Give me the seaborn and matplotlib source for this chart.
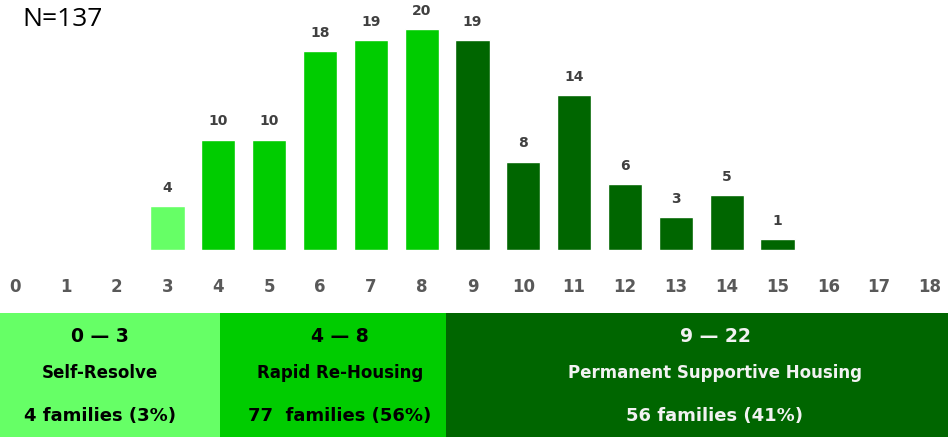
import numpy as np
import pandas as pd
import seaborn as sns
import matplotlib.pyplot as plt
from matplotlib.patches import Rectangle

# data
months = [3, 4, 5, 6, 7, 8, 9, 10, 11, 12, 13, 14, 15]
families = [4, 10, 10, 18, 19, 20, 19, 8, 14, 6, 3, 5, 1]
groups = ["Self-Resolve"] + ["Rapid Re-Housing"] * 5 + ["Permanent Supportive Housing"] * 7
tick_values = list(range(0, 19))

group_ranges = ["0 \u2014 3", "4 \u2014 8", "9 \u2014 22"]
group_names = ["Self-Resolve", "Rapid Re-Housing", "Permanent Supportive Housing"]
group_counts = ["4 families (3%)", "77  families (56%)", "56 families (41%)"]
total_n = 137

palette = {"Self-Resolve": "#66FF66",
           "Rapid Re-Housing": "#00CC00",
           "Permanent Supportive Housing": "#006600"}

df = pd.DataFrame({"month": months, "families": families, "group": groups})

sns.set_style("white")
plt.rcParams["font.family"] = ["DejaVu Sans"]

W, H = 948, 437
fig = plt.figure(figsize=(W / 100, H / 100), dpi=100)

# main bar axes: baseline at y=250px, tick 0 at x=15px, tick 18 at x=930px
unit = (930 - 15) / 18
ax = fig.add_axes([0, (H - 250) / H, 1, 250 / H])
sns.barplot(data=df, x="month", y="families", hue="group", palette=palette,
            native_scale=True, dodge=False, width=0.67, saturation=1,
            legend=False, ax=ax)
ax.set_xlim(-15 / unit, 18 + 18 / unit)
ax.set_ylim(0, 250 / 11.05)
ax.set_xticks(tick_values)
ax.set_xticklabels([str(t) for t in tick_values], fontsize=12, fontweight="bold",
                   color="#595959", family=["Liberation Sans Narrow", "DejaVu Sans"])
ax.tick_params(axis="x", length=0, pad=20)
ax.set_yticks([])
ax.set_xlabel("")
ax.set_ylabel("")
for s in ax.spines.values():
    s.set_visible(False)
ax.patch.set_alpha(0)

for m, v in zip(months, families):
    ax.annotate(str(v), (m, v), xytext=(0, 8), textcoords="offset points",
                ha="center", va="bottom", fontsize=10, fontweight="bold", color="#404040")

fig.text(22 / W, 1 - 20 / H, f"N={total_n}", fontsize=19, ha="left", va="center",
         color="black", family=["Open Sans", "DejaVu Sans"])

# group boxes along the bottom
box_edges = [0, 220, 446, 948]
box_colors = ["#66FF66", "#00CC00", "#006600"]
text_colors = ["black", "black", "#F2F2F2"]
text_x = [100, 340, 715]
top = 313
for i in range(3):
    x0, x1 = box_edges[i], box_edges[i + 1]
    fig.patches.append(Rectangle((x0 / W, 0), (x1 - x0) / W, (H - top) / H,
                                 transform=fig.transFigure, facecolor=box_colors[i],
                                 edgecolor="none", zorder=0))
    cx = text_x[i] / W
    fig.text(cx, 1 - 336 / H, group_ranges[i], ha="center", va="center",
             fontsize=13.5, fontweight="bold", color=text_colors[i])
    fig.text(cx, 1 - 373 / H, group_names[i], ha="center", va="center",
             fontsize=12, fontweight="bold", color=text_colors[i])
    fig.text(cx, 1 - 416 / H, group_counts[i], ha="center", va="center",
             fontsize=13, fontweight="bold", color=text_colors[i])

fig.savefig("out.png", dpi=100)
